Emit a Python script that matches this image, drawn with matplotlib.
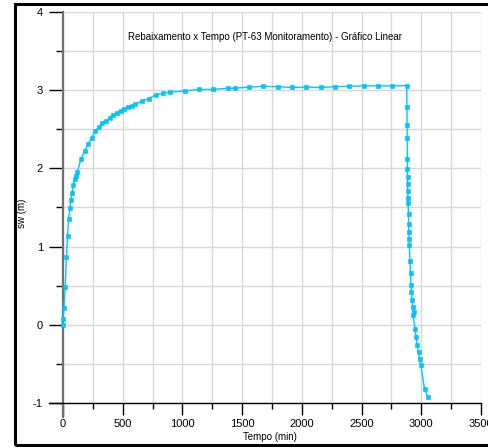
import matplotlib
matplotlib.use("Agg")
import matplotlib.pyplot as plt
from matplotlib.patches import Rectangle
from matplotlib.lines import Line2D
from matplotlib.ticker import MultipleLocator

plt.rcParams['font.family'] = ['Liberation Sans', 'DejaVu Sans']
plt.rcParams['axes.unicode_minus'] = False

# Drawdown (pumping) + recovery data
tempo = [0, 2, 8, 19, 28, 39, 47, 58, 67, 78, 86, 98, 109, 120, 150, 181, 209,
         240, 270, 301, 329, 359, 390, 421, 451, 482, 513, 543, 574, 605, 660,
         719, 775, 836, 897, 1020, 1140, 1252, 1380, 1438, 1558, 1678, 1798,
         1917, 2037, 2157, 2277, 2397, 2517, 2636, 2756, 2878,
         2880, 2881, 2882, 2883, 2884, 2885, 2886, 2887, 2888, 2889, 2893,
         2894, 2896, 2898, 2900, 2905, 2910, 2913, 2918, 2923, 2928, 2936,
         2930, 2949, 2957, 2966, 2977, 2986, 2997, 3027, 3055]
sw = [0.0, 0.077, 0.22, 0.48, 0.866, 1.14, 1.355, 1.496, 1.594, 1.69, 1.79,
      1.86, 1.90, 1.95, 2.12, 2.22, 2.31, 2.39, 2.48, 2.53, 2.58, 2.61, 2.64,
      2.685, 2.71, 2.74, 2.76, 2.78, 2.80, 2.82, 2.86, 2.89, 2.94, 2.96,
      2.975, 2.99, 3.01, 3.01, 3.025, 3.025, 3.04, 3.05, 3.045, 3.035, 3.04,
      3.035, 3.045, 3.05, 3.055, 3.055, 3.055, 3.06,
      2.78, 2.55, 2.39, 2.12, 1.99, 1.89, 1.80, 1.71, 1.62, 1.555, 1.42,
      1.295, 1.19, 1.10, 1.015, 0.82, 0.665, 0.51, 0.42, 0.32, 0.23, 0.17,
      0.12, -0.055, -0.16, -0.26, -0.35, -0.44, -0.52, -0.82, -0.92]

title = "Rebaixamento x Tempo (PT-63 Monitoramento) - Gráfico Linear"
xlabel = "Tempo (min)"
ylabel = "sw (m)"

W, H = 488, 447
fig = plt.figure(figsize=(W / 100, H / 100), dpi=100)

# outer frame
fig.patches.append(Rectangle((15 / W, 1 - 445 / H), 480 / W, 441 / H,
                             transform=fig.transFigure, fill=False,
                             edgecolor='black', linewidth=2.2, zorder=0))

ax = fig.add_axes([63 / W, 1 - 403 / H, 418 / W, 391 / H])
ax.set_xlim(0, 3500)
ax.set_ylim(-1, 4)

for s in ax.spines.values():
    s.set_visible(False)

ax.xaxis.set_major_locator(MultipleLocator(500))
ax.xaxis.set_minor_locator(MultipleLocator(250))
ax.yaxis.set_major_locator(MultipleLocator(1))
ax.yaxis.set_minor_locator(MultipleLocator(0.5))
ax.grid(True, which='both', color='#d8d8d8', linewidth=1.0, zorder=0)
ax.set_axisbelow(True)

ax.tick_params(axis='x', which='major', length=8.5, width=1.0, color='black',
               pad=3, labelsize=8)
ax.tick_params(axis='x', which='minor', length=4.5, width=1.0, color='black')
ax.tick_params(axis='y', which='major', length=10, width=1.0, color='black',
               pad=4.5, labelsize=8)
ax.tick_params(axis='y', which='minor', length=5, width=1.0, color='black')

# axis lines: left (gray, extends below), bottom (black, extends left)
ax.add_line(Line2D([0, 0], [1, -14 / 391], transform=ax.transAxes,
                   color='#707070', linewidth=1.6, clip_on=False, zorder=3))
ax.add_line(Line2D([-14 / 418, 1], [0, 0], transform=ax.transAxes,
                   color='black', linewidth=1.0, clip_on=False, zorder=3))

ax.plot(tempo, sw, color='#00c8ff', linewidth=1.0, marker='s',
        markersize=2.2, markeredgewidth=0.4, markeredgecolor='#00b8f0',
        zorder=4, clip_on=False)

ax.text(0.483, 0.936, title, transform=ax.transAxes, ha='center',
        va='center', fontsize=7)

fig.text(22 / W, 1 - 213 / H, ylabel, rotation=90, ha='center', va='center',
         fontsize=7)
fig.text(270 / W, 1 - 437 / H, xlabel, ha='center', va='center',
         fontsize=7)

fig.savefig("out.png", dpi=100)
